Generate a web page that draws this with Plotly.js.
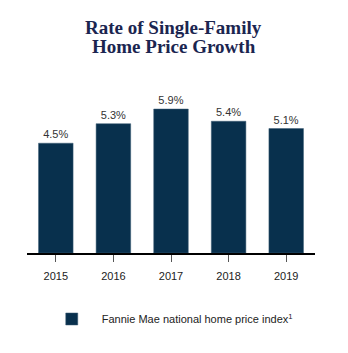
<!DOCTYPE html>
<html><head><meta charset="utf-8">
<script src="https://cdn.plot.ly/plotly-3.0.1.min.js"></script>
<style>html,body{margin:0;padding:0;background:#fff}#chart{width:348px;height:353px}</style>
</head><body><div id="chart"></div>
<script>
const years = ['2015','2016','2017','2018','2019'];
const growth = [4.5, 5.3, 5.9, 5.4, 5.1];
const labels = ['4.5%','5.3%','5.9%','5.4%','5.1%'];
const seriesName = 'Fannie Mae national home price index<sup>1</sup>';
const titleLines = ['Rate of Single-Family', 'Home Price Growth'];

const trace = {
  type: 'bar', x: years, y: growth, name: seriesName,
  text: labels, textposition: 'outside', cliponaxis: false,
  textfont: {family: 'Liberation Sans, Arial, sans-serif', size: 11, color: '#333'},
  marker: {color: '#08304d', line: {color: '#3d5c74', width: 0.5}},
  width: 0.6, hoverinfo: 'skip'
};
const titleFont = {family: 'Liberation Serif, Times New Roman, serif', size: 19, color: '#1b2550'};
const layout = {
  width: 348, height: 353,
  margin: {l: 27, r: 33, t: 80, b: 100},
  paper_bgcolor: '#fff', plot_bgcolor: '#fff',
  annotations: titleLines.map((t, i) => ({
    text: '<b>' + t + '</b>', xref: 'paper', yref: 'paper', x: 0.51, 
    y: 1 + (80 - [27, 46][i]) / 173, xanchor: 'center', yanchor: 'middle',
    showarrow: false, font: titleFont
  })),
  xaxis: {type: 'category', range: [-0.5, 4.5], showline: true, linecolor: '#000', linewidth: 1.5,
    ticks: 'outside', ticklen: 7, tickcolor: '#555', tickwidth: 1, showgrid: false, zeroline: false,
    ticklabelstandoff: 5,
    tickfont: {family: 'Liberation Sans, Arial, sans-serif', size: 11, color: '#222'}},
  yaxis: {range: [0, 7.09], visible: false, showgrid: false, zeroline: false},
  showlegend: true,
  legend: {orientation: 'h', xref: 'container', yref: 'container', x: 0.12, y: 0.1374,
    xanchor: 'left', yanchor: 'top', itemwidth: 50,
    font: {family: 'Liberation Sans, Arial, sans-serif', size: 11, color: '#222'}}
};
Plotly.newPlot('chart', [trace], layout, {displayModeBar: false, staticPlot: true});
</script></body></html>
